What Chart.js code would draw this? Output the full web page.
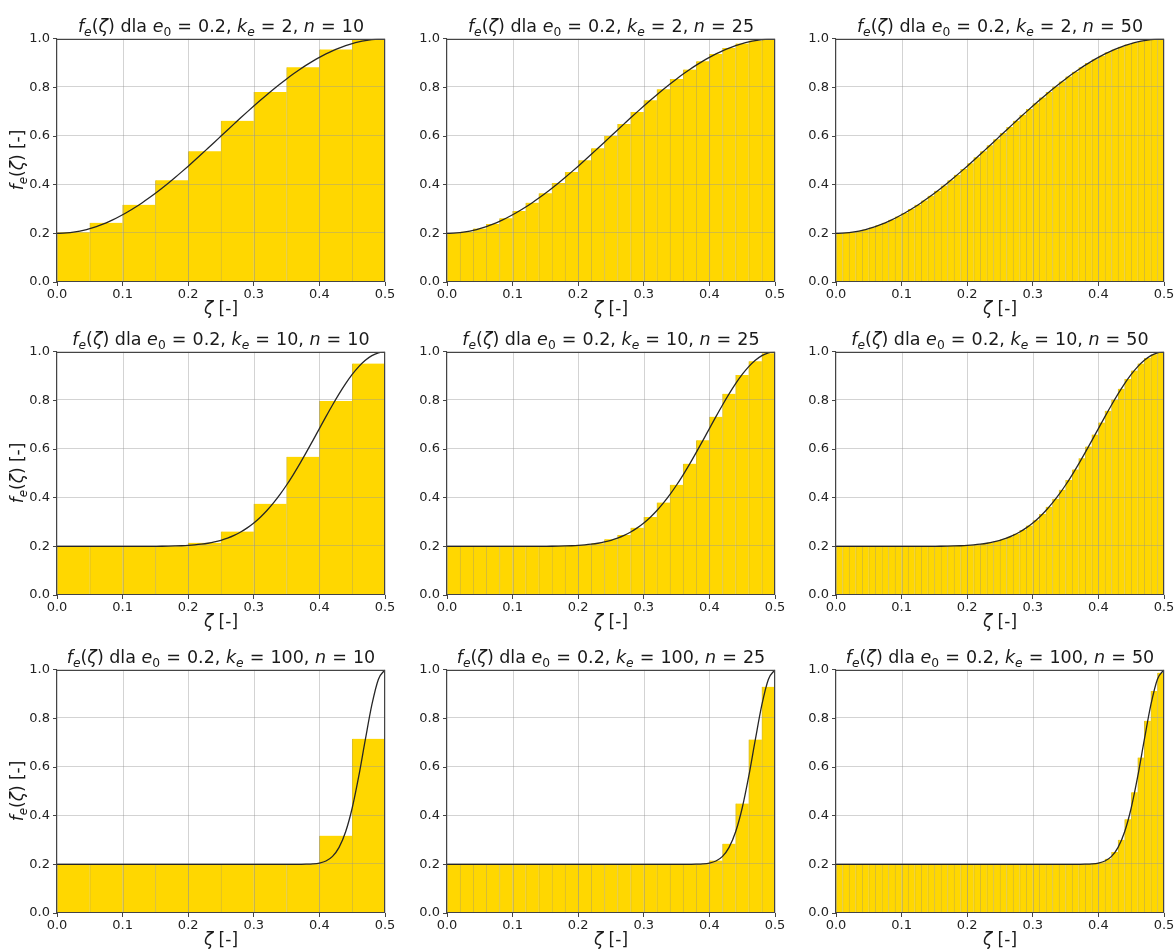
<!DOCTYPE html>
<html>
<head>
<meta charset="utf-8">
<script src="https://cdn.jsdelivr.net/npm/chart.js@4.4.1/dist/chart.umd.min.js"></script>
<style>
  html, body { margin: 0; padding: 0; background: #ffffff; }
  #fig { position: relative; width: 1174px; height: 951px; overflow: hidden;
         font-family: 'DejaVu Sans', sans-serif; color: #1a1a1a; }
  #fig canvas { position: absolute; }
  .title { position: absolute; text-align: center; font-size: 17.5px; line-height: 22px; white-space: nowrap; }
  .xlab  { position: absolute; text-align: center; font-size: 17px; line-height: 20px; white-space: nowrap; }
  .ylab  { position: absolute; text-align: center; font-size: 17px; line-height: 20px; white-space: nowrap;
           transform: rotate(-90deg); }
  .eq { padding: 0 0.03em; }
  sub { font-size: 70%; vertical-align: baseline; position: relative; top: 0.3em; line-height: 0; }
</style>
</head>
<body>
<div id="fig"></div>
<script>
// ---- data -------------------------------------------------------------
// subdivisions per column and stiffness exponent per row
const nValues = [10, 25, 50];
const keValues = [2, 10, 100];
const e0 = 0.2;

// tick labels
const xTicks = ['0.0', '0.1', '0.2', '0.3', '0.4', '0.5'];
const yTicks = ['0.0', '0.2', '0.4', '0.6', '0.8', '1.0'];

// continuous profile f_e(zeta), sampled every 0.01 from 0 to 0.5
const curveK2 = [
  0.2000, 0.2008, 0.2032, 0.2071, 0.2126, 0.2196, 0.2281, 0.2381, 0.2495, 0.2623,
  0.2764, 0.2918, 0.3084, 0.3262, 0.3450, 0.3649, 0.3857, 0.4073, 0.4297, 0.4528,
  0.4764, 0.5005, 0.5250, 0.5499, 0.5749, 0.6000, 0.6251, 0.6501, 0.6750, 0.6995,
  0.7236, 0.7472, 0.7703, 0.7927, 0.8143, 0.8351, 0.8550, 0.8738, 0.8916, 0.9082,
  0.9236, 0.9377, 0.9505, 0.9619, 0.9719, 0.9804, 0.9874, 0.9929, 0.9968, 0.9992, 1.0000
];
const curveK10 = [
  0.2000, 0.2000, 0.2000, 0.2000, 0.2000, 0.2000, 0.2000, 0.2000, 0.2000, 0.2000,
  0.2000, 0.2000, 0.2000, 0.2001, 0.2002, 0.2003, 0.2005, 0.2009, 0.2016, 0.2025,
  0.2039, 0.2060, 0.2089, 0.2128, 0.2181, 0.2250, 0.2339, 0.2451, 0.2590, 0.2759,
  0.2961, 0.3198, 0.3473, 0.3786, 0.4136, 0.4523, 0.4943, 0.5391, 0.5863, 0.6350,
  0.6843, 0.7335, 0.7814, 0.8269, 0.8691, 0.9068, 0.9391, 0.9652, 0.9844, 0.9960, 1.0000
];
const curveK100 = [
  0.2000, 0.2000, 0.2000, 0.2000, 0.2000, 0.2000, 0.2000, 0.2000, 0.2000, 0.2000,
  0.2000, 0.2000, 0.2000, 0.2000, 0.2000, 0.2000, 0.2000, 0.2000, 0.2000, 0.2000,
  0.2000, 0.2000, 0.2000, 0.2000, 0.2000, 0.2000, 0.2000, 0.2000, 0.2000, 0.2000,
  0.2000, 0.2000, 0.2000, 0.2000, 0.2000, 0.2000, 0.2000, 0.2002, 0.2006, 0.2018,
  0.2053, 0.2139, 0.2329, 0.2699, 0.3340, 0.4318, 0.5625, 0.7128, 0.8565, 0.9615, 1.0000
];

// layer values (one bar per layer, layers of equal thickness over 0..0.5)
const barsK2N10 = [0.2049, 0.2436, 0.3172, 0.4184, 0.5374, 0.6626, 0.7816, 0.8828, 0.9564, 0.9951];
const barsK2N25 = [
  0.2008, 0.2071, 0.2196, 0.2381, 0.2623, 0.2918, 0.3262, 0.3649, 0.4073, 0.4528,
  0.5005, 0.5499, 0.6000, 0.6501, 0.6995, 0.7472, 0.7927, 0.8351, 0.8738, 0.9082,
  0.9377, 0.9619, 0.9804, 0.9929, 0.9992
];
const barsK2N50 = [
  0.2002, 0.2018, 0.2049, 0.2096, 0.2159, 0.2236, 0.2329, 0.2436, 0.2557, 0.2692,
  0.2839, 0.3000, 0.3172, 0.3355, 0.3548, 0.3752, 0.3964, 0.4184, 0.4411, 0.4645,
  0.4884, 0.5127, 0.5374, 0.5624, 0.5874, 0.6126, 0.6376, 0.6626, 0.6873, 0.7116,
  0.7355, 0.7589, 0.7816, 0.8036, 0.8248, 0.8452, 0.8645, 0.8828, 0.9000, 0.9161,
  0.9308, 0.9443, 0.9564, 0.9671, 0.9764, 0.9841, 0.9904, 0.9951, 0.9982, 0.9998
];
const barsK10N10 = [0.2000, 0.2000, 0.2000, 0.2000, 0.2150, 0.2610, 0.3750, 0.5680, 0.7980, 0.9520];
const barsK10N25 = [
  0.2000, 0.2000, 0.2000, 0.2000, 0.2000, 0.2000, 0.2000, 0.2000, 0.2010, 0.2025,
  0.2060, 0.2130, 0.2290, 0.2470, 0.2770, 0.3210, 0.3800, 0.4530, 0.5400, 0.6360,
  0.7330, 0.8270, 0.9050, 0.9610, 0.9940
];
const barsK10N50 = [
  0.2000, 0.2000, 0.2000, 0.2000, 0.2000, 0.2000, 0.2000, 0.2000, 0.2000, 0.2000,
  0.2000, 0.2000, 0.2001, 0.2001, 0.2002, 0.2004, 0.2007, 0.2012, 0.2020, 0.2032,
  0.2049, 0.2074, 0.2108, 0.2154, 0.2214, 0.2293, 0.2393, 0.2519, 0.2673, 0.2858,
  0.3077, 0.3333, 0.3627, 0.3958, 0.4327, 0.4731, 0.5165, 0.5625, 0.6105, 0.6595,
  0.7088, 0.7573, 0.8040, 0.8479, 0.8878, 0.9228, 0.9520, 0.9747, 0.9902, 0.9985
];
const barsK100N10 = [0.2000, 0.2000, 0.2000, 0.2000, 0.2000, 0.2000, 0.2000, 0.2000, 0.3180, 0.7160];
const barsK100N25 = [
  0.2000, 0.2000, 0.2000, 0.2000, 0.2000, 0.2000, 0.2000, 0.2000, 0.2000, 0.2000,
  0.2000, 0.2000, 0.2000, 0.2000, 0.2000, 0.2000, 0.2000, 0.2000, 0.2000, 0.2005,
  0.2160, 0.2850, 0.4500, 0.7130, 0.9300
];
const barsK100N50 = [
  0.2000, 0.2000, 0.2000, 0.2000, 0.2000, 0.2000, 0.2000, 0.2000, 0.2000, 0.2000,
  0.2000, 0.2000, 0.2000, 0.2000, 0.2000, 0.2000, 0.2000, 0.2000, 0.2000, 0.2000,
  0.2000, 0.2000, 0.2000, 0.2000, 0.2000, 0.2000, 0.2000, 0.2000, 0.2000, 0.2000,
  0.2000, 0.2000, 0.2000, 0.2000, 0.2000, 0.2000, 0.2000, 0.2004, 0.2012, 0.2035,
  0.2090, 0.2230, 0.2510, 0.3010, 0.3850, 0.4960, 0.6390, 0.7900, 0.9130, 0.9880
];

// ---- layout -----------------------------------------------------------
const PLOT_LEFT = [57, 447, 836];
const PLOT_TOP = [38, 351, 669];
const PLOT_W = 328, PLOT_H = 244;
const PAD = { left: 50, top: 10, right: 20, bottom: 22 };

const rowsDef = [
  { ke: keValues[0], curve: curveK2,   bars: [barsK2N10,   barsK2N25,   barsK2N50] },
  { ke: keValues[1], curve: curveK10,  bars: [barsK10N10,  barsK10N25,  barsK10N50] },
  { ke: keValues[2], curve: curveK100, bars: [barsK100N10, barsK100N25, barsK100N50] }
];

Chart.defaults.font.family = "'DejaVu Sans', sans-serif";
Chart.defaults.font.size = 13;
Chart.defaults.color = '#222222';

// grid sits above the bars but below the profile curve; frame on all four sides
const gridFrame = {
  id: 'gridFrame',
  beforeDatasetDraw(chart, args) {
    if (args.meta.type !== 'line') return;
    const { ctx, chartArea: a, scales: { x, y } } = chart;
    ctx.save();
    ctx.strokeStyle = 'rgba(150,150,150,0.42)';
    ctx.lineWidth = 1;
    ctx.beginPath();
    x.ticks.forEach(t => {
      const px = Math.round(x.getPixelForValue(t.value)) + 0.5;
      ctx.moveTo(px, a.top); ctx.lineTo(px, a.bottom);
    });
    y.ticks.forEach(t => {
      const py = Math.round(y.getPixelForValue(t.value)) - 0.5;
      ctx.moveTo(a.left, py); ctx.lineTo(a.right, py);
    });
    ctx.stroke();
    ctx.restore();
  },
  afterDraw(chart) {
    const { ctx, chartArea: a } = chart;
    ctx.save();
    ctx.strokeStyle = '#444444';
    ctx.lineWidth = 1;
    ctx.strokeRect(Math.round(a.left) - 0.5, Math.round(a.top) + 0.5,
                   Math.round(a.right - a.left), Math.round(a.bottom - a.top) - 1);
    ctx.restore();
  }
};

function layerCenters(n) {
  const w = 0.5 / n;
  return Array.from({ length: n }, (_, i) => (i + 0.5) * w);
}
const curveX = curveK2.map((_, j) => j / 100);

function titleHtml(ke, n) {
  const eq = '<span class="eq">=</span>';
  return '<i>f</i><sub><i>e</i></sub>(<i>ζ</i>) dla <i>e</i><sub>0</sub> ' + eq + ' ' + e0.toFixed(1) +
         ', <i>k</i><sub><i>e</i></sub> ' + eq + ' ' + ke + ', <i>n</i> ' + eq + ' ' + n;
}

const fig = document.getElementById('fig');

function addText(cls, html, style) {
  const d = document.createElement('div');
  d.className = cls;
  d.innerHTML = html;
  Object.assign(d.style, style);
  fig.appendChild(d);
}

rowsDef.forEach((row, r) => {
  nValues.forEach((n, c) => {
    const L = PLOT_LEFT[c], T = PLOT_TOP[r];
    const cw = PLOT_W + PAD.left + PAD.right;
    const ch = PLOT_H + PAD.top + PAD.bottom;
    const cv = document.createElement('canvas');
    cv.width = cw; cv.height = ch;
    cv.style.width = cw + 'px'; cv.style.height = ch + 'px';
    cv.style.left = (L - PAD.left) + 'px';
    cv.style.top = (T - PAD.top) + 'px';
    fig.appendChild(cv);

    const values = row.bars[c];
    const barData = layerCenters(n).map((x, i) => ({ x, y: values[i] }));
    const lineData = curveX.map((x, j) => ({ x, y: row.curve[j] }));

    new Chart(cv, {
      type: 'bar',
      data: {
        datasets: [
          {
            type: 'bar',
            data: barData,
            backgroundColor: '#FFD700',
            borderColor: '#d6bb30',
            borderWidth: { left: 1, right: 0, top: 0, bottom: 0 },
            borderSkipped: false,
            barPercentage: 1,
            categoryPercentage: 1,
            order: 1
          },
          {
            type: 'line',
            data: lineData,
            borderColor: '#262626',
            borderWidth: 1.3,
            pointRadius: 0,
            fill: false,
            cubicInterpolationMode: 'monotone',
            order: 0
          }
        ]
      },
      options: {
        responsive: false,
        animation: false,
        devicePixelRatio: 1,
        layout: { padding: { left: 0, top: PAD.top, right: PAD.right, bottom: 0 } },
        plugins: { legend: { display: false }, tooltip: { enabled: false } },
        scales: {
          x: {
            type: 'linear', min: 0, max: 0.5, offset: false,
            grid: { display: true, offset: false, drawOnChartArea: false, drawTicks: true,
                    tickLength: 4, tickColor: '#444444', tickWidth: 1 },
            border: { display: false },
            ticks: { stepSize: 0.1, autoSkip: false, maxRotation: 0, padding: 1, color: '#222222',
                     callback: v => xTicks[Math.round(v * 10)] },
            afterFit: s => { s.height = PAD.bottom; }
          },
          y: {
            type: 'linear', min: 0, max: 1,
            grid: { display: true, drawOnChartArea: false, drawTicks: true,
                    tickLength: 4, tickColor: '#444444', tickWidth: 1 },
            border: { display: false },
            ticks: { stepSize: 0.2, autoSkip: false, padding: 3, color: '#222222',
                     callback: v => yTicks[Math.round(v * 5)] },
            afterFit: s => { s.width = PAD.left; }
          }
        }
      },
      plugins: [gridFrame]
    });

    addText('title', titleHtml(row.ke, n),
            { left: (L - 20) + 'px', width: (PLOT_W + 40) + 'px', top: (T - 23) + 'px' });
    addText('xlab', '<i>ζ</i> [-]',
            { left: L + 'px', width: PLOT_W + 'px', top: (T + PLOT_H + 16) + 'px' });
    if (c === 0) {
      addText('ylab', '<i>f</i><sub><i>e</i></sub>(<i>ζ</i>) [-]',
              { left: (17 - 80) + 'px', width: '160px', height: '20px',
                top: (T + PLOT_H / 2 - 10) + 'px' });
    }
  });
});
</script>
</body>
</html>
